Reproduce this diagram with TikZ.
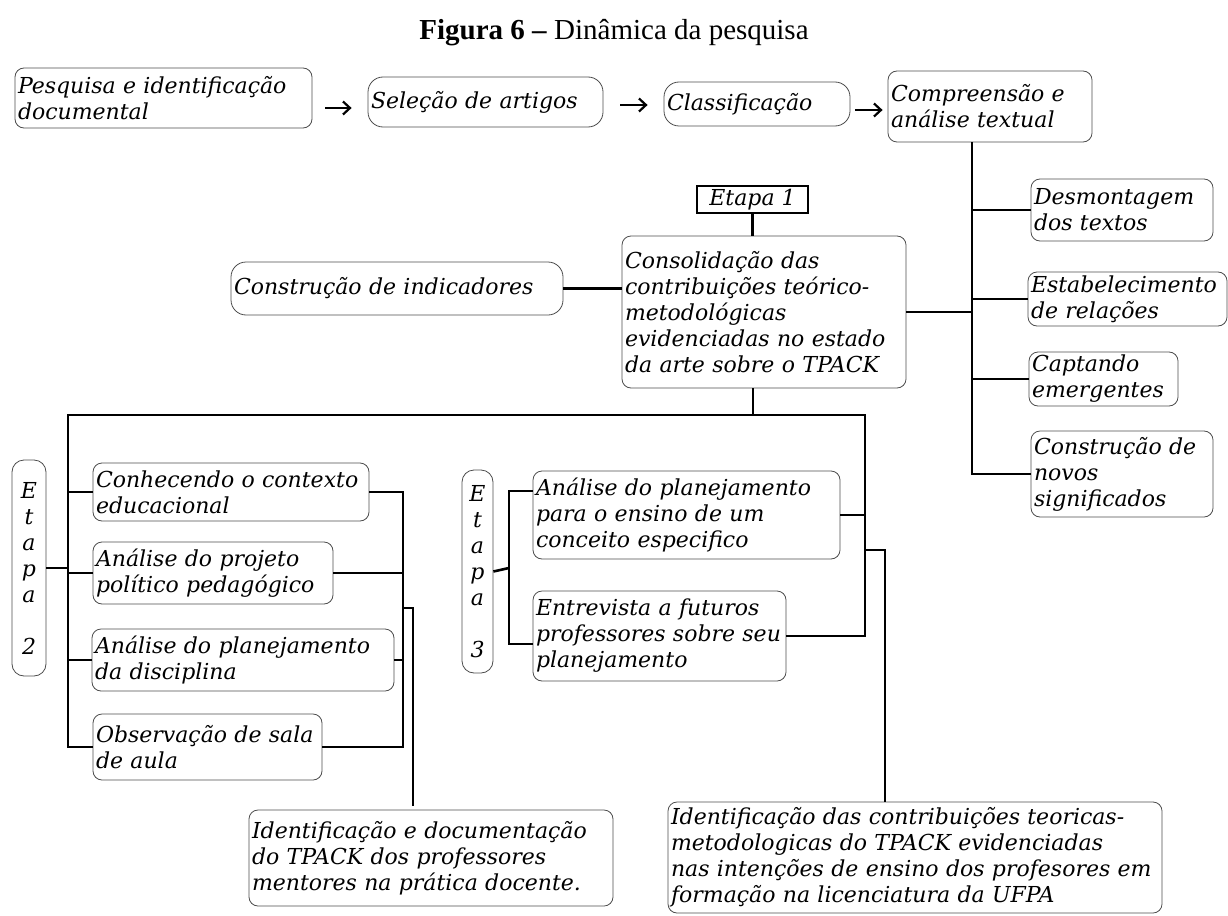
\documentclass[tikz,border=0pt]{standalone}
\usepackage{fontspec}
\setmainfont{DejaVu Serif}
\newfontfamily\titulo{Liberation Serif}
\usetikzlibrary{arrows.meta}

\tikzset{
  caixa/.style={draw=black!70, line width=0.8pt, rounded corners=9pt, align=left,
    inner sep=3pt, font=\fontsize{22}{26}\selectfont\itshape},
  oval/.style={caixa, rounded corners=15pt},
  etapa/.style={caixa, align=center, rounded corners=12pt},
  liga/.style={line width=2.6pt},
  seta/.style={line width=2.2pt, -{Straight Barb[length=7pt,width=13pt]}},
}

\begin{document}
\begin{tikzpicture}[x=1pt, y=-1pt]
  \useasboundingbox (0,0) rectangle (1228,915);

  \node (tit) at (614,33) {\titulo\fontsize{29}{33}\selectfont\textbf{Figura 6 –} Dinâmica da pesquisa};

  % linha de cima
  \node[caixa, text width=291pt, minimum height=60pt] (pesq) at (163.5,98) {Pesquisa e identificação\\documental};
  \node[oval, text width=229pt, minimum height=50pt] (sel) at (485.5,102) {Seleção de artigos};
  \node[oval, text width=180pt, minimum height=44pt] (clas) at (757,104) {Classificação};
  \node[caixa, text width=198pt, minimum height=71pt] (comp) at (990,106.5) {Compreensão e\\análise textual};

  \draw[seta, shorten <=13pt, shorten >=16pt] ([yshift=-10pt]pesq.east) -- ([yshift=-10pt]pesq.east -| sel.west);
  \draw[seta, shorten <=17pt, shorten >=16pt] ([yshift=-3pt]sel.east) -- ([yshift=-3pt]sel.east -| clas.west);
  \draw[seta, shorten <=5pt, shorten >=5pt] ([yshift=-6pt]clas.east) -- ([yshift=-6pt]clas.east -| comp.west);

  % lado direito
  \node[caixa, text width=176pt, minimum height=62pt] (desm) at (1122,210) {Desmontagem\\dos textos};
  \node[caixa, text width=193pt, minimum height=54pt] (estab) at (1127.5,299) {Estabelecimento\\de relações};
  \node[caixa, text width=143pt, minimum height=54pt] (capt) at (1103.5,379) {Captando\\emergentes};
  \node[caixa, text width=176pt, minimum height=86pt] (novos) at (1122,474) {Construção de\\novos\\significados};

  % etapa 1
  \node[draw, line width=2.4pt, font=\fontsize{22}{26}\selectfont\itshape, minimum width=111pt, minimum height=27pt, inner sep=1pt] (et1) at (752.5,199.5) {Etapa 1};
  \node[caixa, text width=278pt, minimum height=152pt] (cons) at (764,312) {Consolidação das\\contribuições teórico-\\metodológicas\\evidenciadas no estado\\da arte sobre o TPACK};
  \node[oval, text width=326pt, minimum height=53pt] (ind) at (397,288.5) {Construção de indicadores};

  \coordinate (tronco) at (972,477);
  \draw[liga] (comp.south -| tronco) -- (tronco |- novos.west) -- (novos.west);
  \foreach \n in {desm,estab,capt}
    \draw[liga] (tronco |- \n.west) -- (\n.west);
  \draw[liga] (cons.east) -- (cons.east -| tronco);
  \draw[liga] (et1.south) -- (et1.south |- cons.north);
  \draw[liga] (ind.east) -- (ind.east -| cons.west);

  % etapa 2
  \node[etapa, text width=28pt, minimum height=216pt] (et2) at (29,568) {E\\t\\a\\p\\a\\[26pt]2};
  \node[caixa, text width=270pt, minimum height=58pt] (conh) at (231,492) {Conhecendo o contexto\\educacional};
  \node[caixa, text width=234pt, minimum height=62pt] (proj) at (213,573) {Análise do projeto\\político pedagógico};
  \node[caixa, text width=296pt, minimum height=62pt] (plan) at (243,660) {Análise do planejamento\\da disciplina};
  \node[caixa, text width=223pt, minimum height=66pt] (obs) at (207.5,747) {Observação de sala\\de aula};

  % etapa 3
  \node[etapa, text width=25pt, minimum height=203pt] (et3) at (477.5,571.5) {E\\t\\a\\p\\a\\[26pt]3};
  \node[caixa, text width=301pt, minimum height=88pt] (conc) at (686.5,515) {Análise do planejamento\\para o ensino de um\\conceito especifico};
  \node[caixa, text width=247pt, minimum height=90pt] (entr) at (659.5,636) {Entrevista a futuros\\professores sobre seu\\planejamento};

  % resultados
  \node[caixa, text width=358pt, minimum height=96pt] (ment) at (431,858) {Identificação e documentação\\do TPACK dos professores\\mentores na prática docente.};
  \node[caixa, text width=488pt, minimum height=111pt, font=\fontsize{22}{26}\selectfont\itshape] (ufpa) at (915,857.5) {Identificação das contribuições teoricas-\\metodologicas do TPACK  evidenciadas\\nas intenções de ensino dos profesores em\\formação na licenciatura da UFPA};

  \coordinate (barra) at (753,415);
  \coordinate (esq) at (68,415);
  \coordinate (dir) at (865,415);
  \draw[liga] (cons.south -| barra) -- (barra);
  \draw[liga] (obs.west) -- (esq |- obs.west) -- (esq) -- (dir) -- (dir |- entr.east) -- (entr.east);
  \foreach \n in {conh,proj,plan}
    \draw[liga] (esq |- \n.west) -- (\n.west);
  \draw[liga] (et2.east) -- (esq |- et2.east);

  \coordinate (dir2) at (403,608);
  \coordinate (desce) at (413,608);
  \draw[liga] (conh.east) -- (conh.east -| dir2) -- (obs.east -| dir2) -- (obs.east);
  \foreach \n in {proj,plan}
    \draw[liga] (\n.east) -- (\n.east -| dir2);
  \draw[liga, shorten >=4pt] (dir2) -- (desce) -- (desce |- ment.north);

  \coordinate (meio) at (509,568);
  \draw[liga] (et3.east) -- (meio);
  \draw[liga] ([yshift=24pt]conc.west) -| (meio) |- ([yshift=-8pt]entr.west);
  \draw[liga] (conc.east) -- (conc.east -| dir);
  \coordinate (desce2) at (885,550);
  \draw[liga] (dir |- desce2) -- (desce2) -- (desce2 |- ufpa.north);
\end{tikzpicture}
\end{document}
